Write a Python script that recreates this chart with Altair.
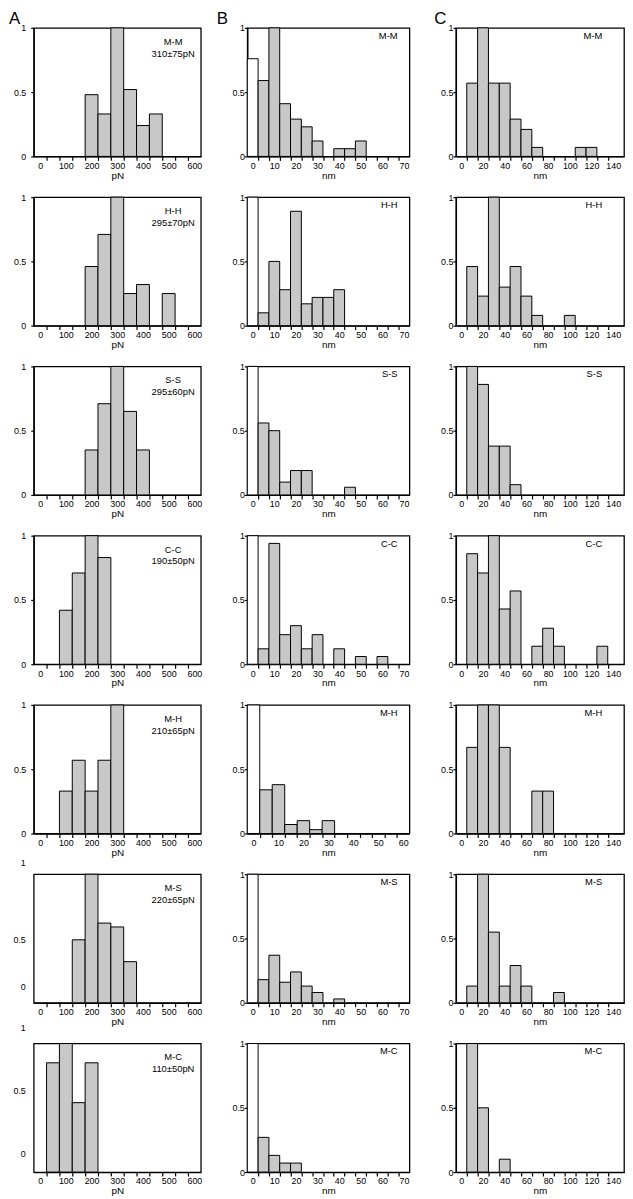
import altair as alt
import pandas as pd

FONT = "Liberation Sans"

# ---------------- data ----------------
pairs = ["M-M", "H-H", "S-S", "C-C", "M-H", "M-S", "M-C"]
force_means = ["310±75pN", "295±70pN", "295±60pN", "190±50pN",
               "210±65pN", "220±65pN", "110±50pN"]

# bin centres
force_bins = [0, 50, 100, 150, 200, 250, 300, 350, 400, 450, 500, 550, 600]
ext_bins = [0, 5, 10, 15, 20, 25, 30, 35, 40, 45, 50, 55, 60, 65, 70]
ext_bins_mh = [0, 5, 10, 15, 20, 25, 30, 35, 40, 45, 50, 55, 60]
len_bins = [0, 10, 20, 30, 40, 50, 60, 70, 80, 90, 100, 110, 120, 130, 140]

# tick labels
force_ticks = [0, 100, 200, 300, 400, 500, 600]
ext_ticks = [0, 10, 20, 30, 40, 50, 60, 70]
ext_ticks_mh = [0, 10, 20, 30, 40, 50, 60]
len_ticks = [0, 20, 40, 60, 80, 100, 120, 140]

# axis ranges
force_domain = [-25, 625]
ext_domain = [-2.5, 72.5]
ext_domain_mh = [-2.5, 62.5]
len_domain = [-5, 150]

# column A: rupture force (normalised counts)
force_mm = [0, 0, 0, 0, 0.48, 0.33, 1.0, 0.52, 0.24, 0.33, 0, 0, 0]
force_hh = [0, 0, 0, 0, 0.46, 0.71, 1.0, 0.25, 0.32, 0, 0.25, 0, 0]
force_ss = [0, 0, 0, 0, 0.35, 0.71, 1.0, 0.65, 0.35, 0, 0, 0, 0]
force_cc = [0, 0, 0.42, 0.71, 1.0, 0.83, 0, 0, 0, 0, 0, 0, 0]
force_mh = [0, 0, 0.33, 0.57, 0.33, 0.57, 1.0, 0, 0, 0, 0, 0, 0]
force_ms = [0, 0, 0, 0.49, 1.0, 0.62, 0.59, 0.32, 0, 0, 0, 0, 0]
force_mc = [0, 0.85, 1.0, 0.54, 0.85, 0, 0, 0, 0, 0, 0, 0, 0]

# column B: extension (first bin drawn open)
ext_mm = [0.76, 0.59, 1.0, 0.41, 0.29, 0.23, 0.12, 0, 0.06, 0.06, 0.12, 0, 0, 0, 0]
ext_hh = [1.0, 0.10, 0.50, 0.28, 0.89, 0.17, 0.22, 0.22, 0.28, 0, 0, 0, 0, 0, 0]
ext_ss = [1.0, 0.56, 0.50, 0.10, 0.19, 0.19, 0, 0, 0, 0.06, 0, 0, 0, 0, 0]
ext_cc = [1.0, 0.12, 0.94, 0.23, 0.30, 0.12, 0.23, 0, 0.12, 0, 0.06, 0, 0.06, 0, 0]
ext_mh = [1.0, 0.34, 0.38, 0.07, 0.10, 0.03, 0.10, 0, 0, 0, 0, 0, 0]
ext_ms = [1.0, 0.18, 0.37, 0.16, 0.24, 0.13, 0.08, 0, 0.03, 0, 0, 0, 0, 0, 0]
ext_mc = [1.0, 0.27, 0.13, 0.07, 0.07, 0, 0, 0, 0, 0, 0, 0, 0, 0, 0]

# column C: length
len_mm = [0, 0.57, 1.0, 0.57, 0.57, 0.29, 0.21, 0.07, 0, 0, 0, 0.07, 0.07, 0, 0]
len_hh = [0, 0.46, 0.23, 1.0, 0.30, 0.46, 0.23, 0.08, 0, 0, 0.08, 0, 0, 0, 0]
len_ss = [0, 1.0, 0.86, 0.38, 0.38, 0.08, 0, 0, 0, 0, 0, 0, 0, 0, 0]
len_cc = [0, 0.86, 0.71, 1.0, 0.43, 0.57, 0, 0.14, 0.28, 0.14, 0, 0, 0, 0.14, 0]
len_mh = [0, 0.67, 1.0, 1.0, 0.67, 0, 0, 0.33, 0.33, 0, 0, 0, 0, 0, 0]
len_ms = [0, 0.13, 1.0, 0.55, 0.13, 0.29, 0.13, 0, 0, 0.08, 0, 0, 0, 0, 0]
len_mc = [0, 1.0, 0.5, 0, 0.1, 0, 0, 0, 0, 0, 0, 0, 0, 0, 0]

# y-axis labels of the last two force panels sit displaced in the figure
shifted_ylabels = ["1", "0.5", "0"]
ms_ylabel_pos = [1.09, 0.487, 0.124]
mc_ylabel_pos = [1.12, 0.63, 0.14]

force_rows = [force_mm, force_hh, force_ss, force_cc, force_mh, force_ms, force_mc]
ext_rows = [ext_mm, ext_hh, ext_ss, ext_cc, ext_mh, ext_ms, ext_mc]
len_rows = [len_mm, len_hh, len_ss, len_cc, len_mh, len_ms, len_mc]
a_ylabel_pos = [None, None, None, None, None, ms_ylabel_pos, mc_ylabel_pos]

# ---------------- layout ----------------
H = 130
WA, WB, WC = 169, 164, 170


def panel(bins, heights, domain, labels, title, width, annot, annot_x, annot_y,
          annot_align, first_open=False, letter=None, letter_x=-25,
          ylab_pad=0, ylab_pos=None):
    half = (bins[1] - bins[0]) / 2
    recs = []
    for i, (c, h) in enumerate(zip(bins, heights)):
        if h <= 0:
            continue
        recs.append({"x0": c - half, "x1": c + half, "h": h,
                     "kind": "open" if (first_open and i == 0) else "filled"})
    df = pd.DataFrame(recs)
    edges = [c + half for c in bins[:-1]]
    values = sorted(set(labels) | set(edges))
    arr = "[" + ",".join(str(v) for v in labels) + "]"
    is_lab = f"indexof({arr}, datum.value) >= 0"
    xaxis = alt.Axis(values=values, title=title,
                     labelExpr=f"{is_lab} ? '' + datum.value : ''",
                     tickOpacity={"condition": {"test": is_lab, "value": 0}, "value": 1},
                     tickSize=4, labelOverlap=False, labelFlush=False,
                     labelPadding=1, titlePadding=0)
    ykw = dict(values=[0, 0.5, 1], title=None, labelExpr="'' + datum.value",
               tickSize=3, labelPadding=ylab_pad, labelOverlap=False,
               labelFlush=False)
    if ylab_pos is not None:
        ykw["labels"] = False
    yaxis = alt.Axis(**ykw)
    yscale = alt.Scale(domain=[0, 1], nice=False)
    bars = alt.Chart(df).mark_rect(stroke="black", strokeWidth=1).encode(
        x=alt.X("x0:Q", scale=alt.Scale(domain=domain, nice=False, zero=False), axis=xaxis),
        x2="x1:Q",
        y=alt.Y("h:Q", scale=yscale, axis=yaxis),
        y2=alt.datum(0),
        color=alt.Color("kind:N", scale=alt.Scale(domain=["open", "filled"],
                                                  range=["white", "#c8c8c8"]),
                        legend=None),
    )
    txt = alt.Chart(pd.DataFrame({"t": [annot]})).mark_text(
        align=annot_align, baseline="middle", fontSize=9.5, font=FONT,
        lineBreak="\n", lineHeight=12, color="black"
    ).encode(text="t:N", x=alt.value(annot_x), y=alt.value(annot_y))
    layers = [bars, txt]
    if ylab_pos is not None:
        ylab = alt.Chart(pd.DataFrame({"t": shifted_ylabels, "pos": ylab_pos})).mark_text(
            align="right", baseline="middle", fontSize=9, font=FONT, color="black"
        ).encode(text="t:N", x=alt.value(-3 - ylab_pad),
                 y=alt.Y("pos:Q", scale=yscale, axis=None))
        layers.append(ylab)
    if letter is not None:
        let = alt.Chart(pd.DataFrame({"t": [letter]})).mark_text(
            align="left", baseline="top", fontSize=17, font=FONT, color="black"
        ).encode(text="t:N", x=alt.value(letter_x), y=alt.value(-16.4))
        layers.append(let)
    return alt.layer(*layers).properties(width=width, height=H)


panels = []
for r in range(7):
    top = r == 0
    pa = panel(force_bins, force_rows[r], force_domain, force_ticks, "pN", WA,
               pairs[r] + "\n" + force_means[r], WA - 28, 14, "center",
               letter="A" if top else None, letter_x=-25, ylab_pad=5,
               ylab_pos=a_ylabel_pos[r])
    if r == 4:
        pb = panel(ext_bins_mh, ext_rows[r], ext_domain_mh, ext_ticks_mh, "nm", WB,
                   pairs[r], WB - 12, 8, "right", first_open=True)
    else:
        pb = panel(ext_bins, ext_rows[r], ext_domain, ext_ticks, "nm", WB,
                   pairs[r], WB - 12, 8, "right", first_open=True,
                   letter="B" if top else None, letter_x=-31)
    pc = panel(len_bins, len_rows[r], len_domain, len_ticks, "nm", WC,
               pairs[r], WC - 22, 8, "right",
               letter="C" if top else None, letter_x=-22)
    panels.extend([pa, pb, pc])

chart = alt.concat(
    *panels, columns=3, bounds="flush", align="each",
    spacing={"row": 41.2, "column": 47}
).properties(
    padding={"top": -5.7, "left": 0, "right": 0, "bottom": 0}
).configure_view(
    stroke="black", strokeWidth=1.3
).configure_axis(
    grid=False, domainColor="black", domainWidth=1.3, tickColor="black",
    tickWidth=1.2, labelColor="black", titleColor="black", labelFont=FONT,
    titleFont=FONT, labelFontSize=9, titleFontSize=10, titleFontWeight="normal"
)

chart.save("out.html", embed_options={"renderer": "svg", "actions": False})
